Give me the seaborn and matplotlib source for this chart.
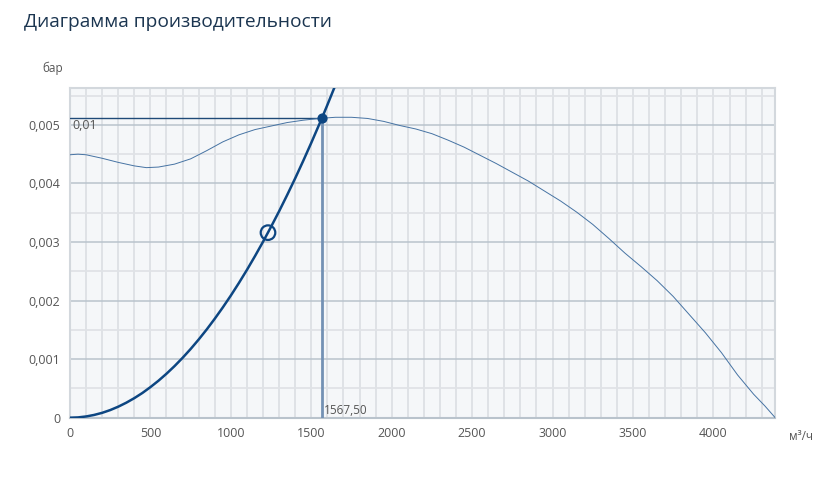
import numpy as np
import pandas as pd
import seaborn as sns
import matplotlib.pyplot as plt
from matplotlib.ticker import MultipleLocator, FuncFormatter

###### Fan performance diagram ######

# fan curve (m3/h, bar)
fan_flow = [0, 50, 100, 200, 300, 400, 475, 550, 650, 750, 850, 950, 1050,
            1150, 1250, 1350, 1450, 1550, 1650, 1750, 1850, 1950, 2050, 2150,
            2250, 2350, 2450, 2550, 2650, 2750, 2850, 2950, 3050, 3150, 3250,
            3350, 3450, 3550, 3650, 3750, 3850, 3950, 4050, 4150, 4250, 4320, 4384]
fan_pressure = [0.00449, 0.00450, 0.00449, 0.00443, 0.00436, 0.00430, 0.00427,
                0.00428, 0.00433, 0.00442, 0.00456, 0.00471, 0.00483, 0.00492,
                0.00498, 0.00504, 0.00508, 0.00511, 0.00513, 0.00513, 0.00511,
                0.00506, 0.00499, 0.00493, 0.00485, 0.00474, 0.00462, 0.00448,
                0.00434, 0.00419, 0.00404, 0.00387, 0.00370, 0.00351, 0.00330,
                0.00306, 0.00281, 0.00258, 0.00234, 0.00207, 0.00176, 0.00145,
                0.00111, 0.00073, 0.00040, 0.00020, 0.0]

# system curve
sys_flow = [0, 50, 100, 150, 200, 250, 300, 350, 400, 450, 500, 550, 600, 650,
            700, 750, 800, 850, 900, 950, 1000, 1050, 1100, 1150, 1200, 1250,
            1300, 1350, 1400, 1450, 1500, 1550, 1567.5, 1600, 1650]
sys_pressure = [0.0, 0.000005, 0.000021, 0.000047, 0.000083, 0.00013, 0.000188,
                0.000256, 0.000334, 0.000422, 0.000522, 0.000631, 0.000751,
                0.000881, 0.001022, 0.001173, 0.001335, 0.001507, 0.00169,
                0.001883, 0.002086, 0.0023, 0.002524, 0.002759, 0.003004,
                0.00326, 0.003525, 0.003802, 0.004088, 0.004386, 0.004694,
                0.005012, 0.005125, 0.00534, 0.00568]

# working point and the circle marker on the system curve
work_flow = 1567.5
work_pressure = 0.005125
work_label_x = "1567,50"
work_label_y = "0,01"
mark_flow = 1231
mark_pressure = 0.00316

fan_df = pd.DataFrame({"flow": fan_flow, "pressure": fan_pressure})
sys_df = pd.DataFrame({"flow": sys_flow, "pressure": sys_pressure})

sns.set_style("white")
plt.rcParams['font.family'] = ['Open Sans', 'DejaVu Sans']

fig = plt.figure(figsize=(8.35, 4.83), dpi=100)
ax = fig.add_axes([0.0838, 0.1352, 0.8446, 0.6826])
ax.set_facecolor("#f5f7f9")

dark = "#0d4682"
ax.plot([0, work_flow], [work_pressure, work_pressure], color="#1f4a78", lw=1.0, zorder=3)
ax.plot([work_flow, work_flow], [0, work_pressure], color="#7391b4", lw=2.0, zorder=3)

sns.lineplot(data=fan_df, x="flow", y="pressure", ax=ax, color="#4673a3",
             lw=0.7, sort=False, zorder=4, solid_joinstyle="round")
sns.lineplot(data=sys_df, x="flow", y="pressure", ax=ax, color=dark,
             lw=1.8, sort=False, zorder=5, solid_joinstyle="round")
ax.scatter([work_flow], [work_pressure], s=40, color=dark, zorder=6)
ax.scatter([mark_flow], [mark_pressure], s=110, facecolor="none",
           edgecolor=dark, linewidth=1.6, zorder=6)

ax.text(14, work_pressure - 0.00003, work_label_y, ha="left", va="top",
        fontsize=9, color="#555555", zorder=7)
ax.text(work_flow + 12, 0.00002, work_label_x, ha="left", va="bottom",
        fontsize=8.5, color="#555555", zorder=7)

ax.set_xlim(0, 4384)
ax.set_ylim(0, 0.00563)
ax.xaxis.set_major_locator(MultipleLocator(500))
ax.xaxis.set_minor_locator(MultipleLocator(100))
ax.yaxis.set_major_locator(MultipleLocator(0.001))
ax.yaxis.set_minor_locator(MultipleLocator(0.0005))
ax.xaxis.set_major_formatter(FuncFormatter(lambda v, p: f"{v:.0f}"))
ax.yaxis.set_major_formatter(
    FuncFormatter(lambda v, p: "0" if v == 0 else f"{v:.3f}".replace(".", ",")))

ax.grid(which="minor", axis="x", color="#dde0e4", lw=1.3)
ax.grid(which="major", axis="x", color="#dde0e4", lw=1.3)
ax.grid(which="minor", axis="y", color="#e0e3e7", lw=1.3)
ax.grid(which="major", axis="y", color="#b9c3cc", lw=1.1)
ax.set_axisbelow(True)
ax.tick_params(which="major", length=4, width=1, color="#c4ccd3",
               labelsize=9, labelcolor="#555555", pad=3)
ax.tick_params(which="minor", length=0)
for side in ["top", "right", "left", "bottom"]:
    ax.spines[side].set_color("#d3d8dd")
    ax.spines[side].set_linewidth(1.5)
ax.spines["bottom"].set_color("#b9c3cc")
ax.set_xlabel("")
ax.set_ylabel("")

fig.text(24 / 835, 1 - 22 / 483, "Диаграмма производительности", ha="left",
         va="center", fontsize=13.8, color="#1b3550")
fig.text(42 / 835, 1 - 68 / 483, "бар", ha="left", va="center",
         fontsize=8.5, color="#555555")
fig.text(789 / 835, 1 - 436 / 483, "м³/ч", ha="left", va="center",
         fontsize=8.5, color="#555555")

plt.savefig("out.png", dpi=100)
plt.close()
